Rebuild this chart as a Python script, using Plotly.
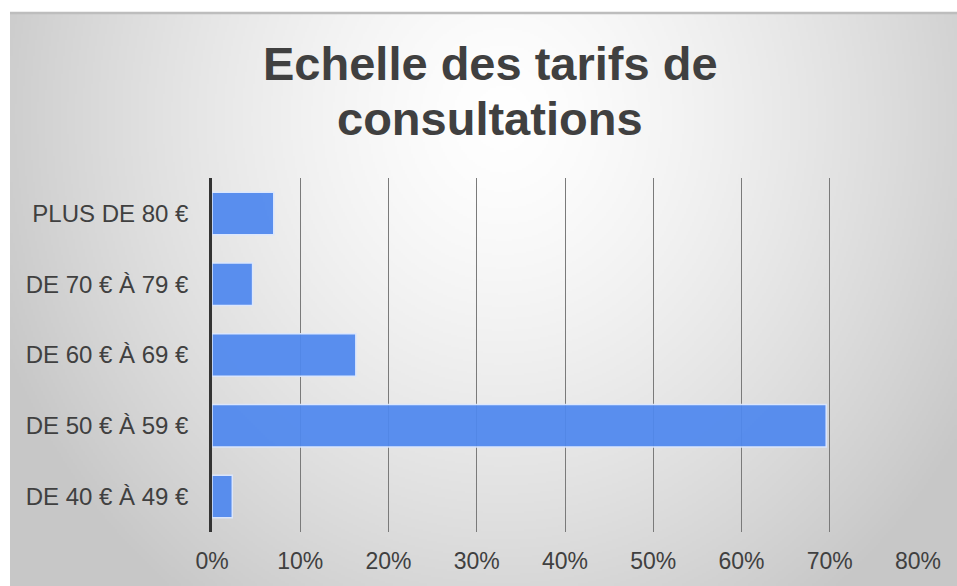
import base64
import struct
import zlib

import numpy as np
import plotly.graph_objects as go

categories = ["DE 40 € À 49 €", "DE 50 € À 59 €", "DE 60 € À 69 €", "DE 70 € À 79 €", "PLUS DE 80 €"]
values = [2.3, 69.6, 16.3, 4.6, 7.0]
tick_vals = [0, 10, 20, 30, 40, 50, 60, 70, 80]
tick_text = ["0%", "10%", "20%", "30%", "40%", "50%", "60%", "70%", "80%"]
title_lines = ["Echelle des tarifs de", "consultations"]

W, H = 957, 586
L, R, T, B = 212, 39, 178, 54
PW, PH = W - L - R, H - T - B


def png_uri(arr):
    h, w, _ = arr.shape
    raw = b"".join(b"\x00" + arr[i].tobytes() for i in range(h))

    def chunk(tag, data):
        c = struct.pack(">I", len(data)) + tag + data
        return c + struct.pack(">I", zlib.crc32(tag + data) & 0xFFFFFFFF)

    png = b"\x89PNG\r\n\x1a\n"
    png += chunk(b"IHDR", struct.pack(">IIBBBBB", w, h, 8, 2, 0, 0, 0))
    png += chunk(b"IDAT", zlib.compress(raw, 9))
    png += chunk(b"IEND", b"")
    return "data:image/png;base64," + base64.b64encode(png).decode()


# radial gradient background (white centre, grey edges)
bx0, by0, bx1, by1 = 10, 13, W, H
gw, gh = (bx1 - bx0) // 2, (by1 - by0) // 2
xs = np.linspace(bx0, bx1, gw)
ys = np.linspace(by0, by1, gh)
X, Y = np.meshgrid(xs, ys)
d = np.sqrt(((X - 503) / 560) ** 2 + ((Y - 118) / 620) ** 2)
v = np.clip(255 - 58 * d ** 1.4, 199, 255).astype(np.uint8)
img = np.stack([v, v, v], axis=-1)


def px(x):
    return (x - L) / PW


def py(y):
    return (H - B - y) / PH


fig = go.Figure(
    go.Bar(
        y=categories,
        x=values,
        orientation="h",
        marker=dict(color="#4f88ef", opacity=0.93, line=dict(color="#dbe7ff", width=1.5)),
        width=0.6,
    )
)

fig.add_layout_image(
    source=png_uri(img),
    xref="paper", yref="paper",
    x=px(bx0), y=py(by0),
    sizex=px(bx1) - px(bx0), sizey=py(by0) - py(by1),
    xanchor="left", yanchor="top",
    sizing="stretch", layer="below",
)

fig.add_shape(type="line", xref="paper", yref="paper",
              x0=px(bx0), x1=px(W), y0=py(13), y1=py(13),
              line=dict(color="#bdbdbd", width=2.5))

title_font = dict(size=47, color="#404040", family="Liberation Sans, Arial, sans-serif", weight="bold")
for line, ymid in zip(title_lines, [64, 118]):
    fig.add_annotation(
        text=line, showarrow=False,
        xref="paper", yref="paper",
        x=px(490), y=py(ymid), xanchor="center", yanchor="middle",
        font=title_font,
    )

fig.update_layout(
    width=W, height=H,
    margin=dict(l=L, r=R, t=T, b=B),
    paper_bgcolor="white",
    plot_bgcolor="rgba(0,0,0,0)",
    showlegend=False,
    font=dict(family="Liberation Sans, Arial, sans-serif", color="#404040"),
    xaxis=dict(
        range=[0, 80],
        tickvals=tick_vals, ticktext=tick_text,
        showgrid=True, gridcolor="#7a7a7a", gridwidth=1.3,
        zeroline=False, showline=False,
        tickfont=dict(size=23, color="#404040"),
        ticks="", ticklabelstandoff=13,
        fixedrange=True,
    ),
    yaxis=dict(
        categoryorder="array", categoryarray=categories,
        range=[-0.5, 4.5],
        showline=True, linecolor="#333333", linewidth=2.5,
        showgrid=False, zeroline=False,
        tickfont=dict(size=24, color="#404040"),
        ticks="", ticklabelstandoff=16,
        fixedrange=True,
    ),
)

fig.write_html(
    "out.html",
    config={"displayModeBar": False},
    post_script="document.body.style.margin='0';document.body.style.overflow='hidden';",
)
